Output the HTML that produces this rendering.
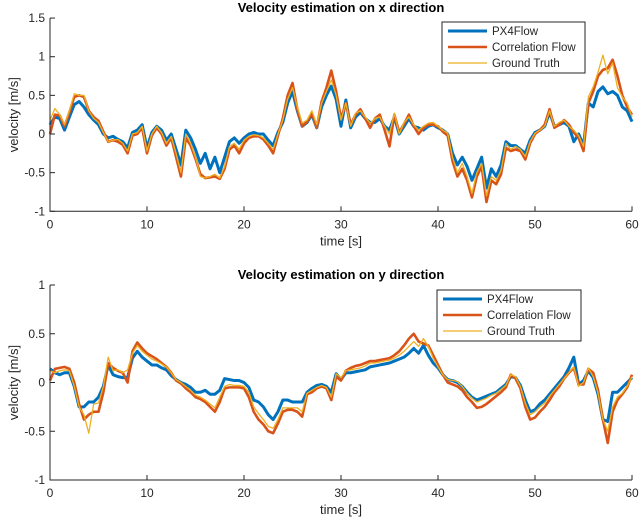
<!DOCTYPE html>
<html><head><meta charset="utf-8">
<style>
html,body{margin:0;padding:0;background:#fff;}
svg{display:block;font-family:"Liberation Sans",Arial,sans-serif;}
</style></head>
<body>
<svg id="chart" width="640" height="521" viewBox="0 0 640 521" xmlns="http://www.w3.org/2000/svg"></svg>
<script>
const tStep = 0.5;
const xTicks = [0,10,20,30,40,50,60];
const yTicksTop = [-1,-0.5,0,0.5,1,1.5];
const yTicksBottom = [-1,-0.5,0,0.5,1];
const seriesNames = ["PX4Flow","Correlation Flow","Ground Truth"];

const px4X = [0.12,0.22,0.2,0.05,0.22,0.38,0.42,0.35,0.25,0.18,0.12,0.0,-0.05,-0.03,-0.07,-0.1,-0.18,0.02,0.05,0.12,
-0.18,0.02,0.1,0.05,-0.08,0.0,-0.2,-0.4,0.05,-0.05,-0.2,-0.38,-0.25,-0.45,-0.3,-0.5,-0.3,-0.1,-0.05,-0.12,
-0.05,0.0,0.02,0.0,0.0,-0.08,-0.15,0.02,0.15,0.4,0.55,0.3,0.1,0.15,0.25,0.08,0.35,0.5,0.62,0.45,
0.1,0.44,0.08,0.22,0.28,0.2,0.15,0.15,0.2,0.1,0.05,0.22,0.0,0.1,0.2,0.1,0.08,0.05,0.1,0.12,
0.08,0.05,0.0,-0.25,-0.4,-0.3,-0.42,-0.6,-0.45,-0.3,-0.7,-0.45,-0.55,-0.4,-0.1,-0.15,-0.15,-0.2,-0.25,-0.08,
0.02,0.05,0.1,0.28,0.1,0.12,0.15,0.1,-0.1,0.0,-0.15,0.4,0.35,0.55,0.61,0.52,0.55,0.5,0.35,0.3,
0.16];
const corrX = [0.0,0.25,0.24,0.1,0.28,0.48,0.5,0.48,0.3,0.22,0.17,0.03,-0.1,-0.08,-0.1,-0.14,-0.25,-0.02,0.0,0.08,
-0.25,-0.02,0.08,0.0,-0.15,-0.05,-0.3,-0.55,-0.05,-0.15,-0.32,-0.52,-0.57,-0.56,-0.55,-0.58,-0.45,-0.2,-0.15,-0.25,
-0.12,-0.05,-0.03,-0.03,-0.07,-0.15,-0.25,-0.02,0.2,0.5,0.66,0.32,0.1,0.16,0.27,0.08,0.42,0.6,0.82,0.55,
0.2,0.4,0.12,0.25,0.32,0.2,0.08,0.2,0.25,0.05,-0.16,0.25,0.02,0.13,0.25,0.1,0.0,0.08,0.12,0.12,
0.1,0.03,-0.02,-0.35,-0.55,-0.45,-0.6,-0.82,-0.55,-0.42,-0.88,-0.6,-0.65,-0.52,-0.18,-0.22,-0.2,-0.22,-0.33,-0.12,
0.0,0.05,0.12,0.32,0.08,0.12,0.18,0.12,0.02,-0.05,-0.22,0.4,0.55,0.75,0.83,0.85,0.96,0.75,0.5,0.35,
0.25];
const gtX = [0.18,0.33,0.25,0.12,0.3,0.52,0.5,0.5,0.3,0.2,0.15,0.02,-0.1,-0.08,-0.07,-0.12,-0.22,0.0,0.02,0.1,
-0.22,0.0,0.1,0.02,-0.12,-0.03,-0.25,-0.5,0.0,-0.12,-0.3,-0.55,-0.57,-0.55,-0.52,-0.57,-0.42,-0.16,-0.12,-0.2,
-0.08,-0.03,-0.01,-0.02,-0.05,-0.12,-0.2,0.0,0.18,0.45,0.6,0.35,0.14,0.18,0.3,0.12,0.4,0.55,0.7,0.5,
0.18,0.4,0.1,0.27,0.3,0.22,0.14,0.2,0.22,0.1,0.0,0.27,0.0,0.15,0.22,0.12,0.05,0.1,0.14,0.15,
0.1,0.05,0.01,-0.3,-0.5,-0.38,-0.55,-0.77,-0.5,-0.38,-0.8,-0.55,-0.6,-0.47,-0.12,-0.2,-0.16,-0.2,-0.29,-0.1,
0.01,0.05,0.1,0.3,0.1,0.15,0.18,0.1,0.05,-0.02,-0.16,0.48,0.61,0.8,1.02,0.78,0.92,0.6,0.48,0.4,
0.22];

const px4Y = [0.14,0.1,0.08,0.1,0.1,-0.04,-0.25,-0.25,-0.2,-0.2,-0.15,-0.04,0.18,0.08,0.06,0.05,0.05,0.25,0.32,0.26,
0.22,0.18,0.18,0.15,0.13,0.07,0.03,0.0,-0.02,-0.05,-0.1,-0.1,-0.08,-0.12,-0.12,-0.08,0.04,0.03,0.02,0.02,
0.0,-0.05,-0.18,-0.2,-0.25,-0.33,-0.38,-0.3,-0.18,-0.18,-0.2,-0.2,-0.2,-0.1,-0.06,-0.03,-0.02,-0.04,-0.1,0.09,
0.03,0.1,0.1,0.11,0.12,0.13,0.16,0.17,0.18,0.19,0.2,0.22,0.24,0.26,0.3,0.35,0.3,0.38,0.28,0.2,
0.15,0.08,0.03,0.02,0.0,-0.04,-0.1,-0.15,-0.18,-0.16,-0.14,-0.12,-0.1,-0.06,-0.02,0.06,0.05,-0.03,-0.18,-0.3,
-0.28,-0.22,-0.18,-0.12,-0.06,0.0,0.06,0.15,0.26,-0.02,0.02,0.12,0.05,-0.12,-0.38,-0.4,-0.1,-0.1,-0.05,0.0,
0.05];
const corrY = [0.02,0.14,0.15,0.16,0.14,0.0,-0.22,-0.38,-0.33,-0.3,-0.3,-0.1,0.2,0.15,0.12,0.1,0.0,0.32,0.41,0.35,
0.3,0.27,0.24,0.2,0.16,0.1,0.02,-0.01,-0.06,-0.1,-0.15,-0.17,-0.2,-0.25,-0.3,-0.2,-0.06,-0.05,-0.05,-0.05,
-0.06,-0.15,-0.3,-0.38,-0.43,-0.5,-0.52,-0.42,-0.3,-0.28,-0.28,-0.3,-0.35,-0.12,-0.1,-0.06,-0.04,-0.06,-0.18,0.06,
0.02,0.12,0.15,0.17,0.18,0.2,0.22,0.22,0.23,0.24,0.25,0.28,0.32,0.38,0.45,0.5,0.42,0.4,0.38,0.28,
0.18,0.08,0.0,-0.02,-0.04,-0.08,-0.15,-0.2,-0.26,-0.25,-0.22,-0.18,-0.14,-0.1,-0.05,0.08,0.04,-0.06,-0.25,-0.38,
-0.36,-0.3,-0.25,-0.18,-0.1,-0.04,0.04,0.1,0.15,-0.02,-0.02,0.14,0.1,-0.08,-0.38,-0.62,-0.3,-0.18,-0.12,-0.05,
0.08];
const gtY = [0.12,0.1,0.12,0.13,0.12,-0.04,-0.25,-0.33,-0.52,-0.22,-0.21,-0.04,0.26,0.12,0.13,0.1,0.13,0.3,0.38,0.32,
0.28,0.24,0.22,0.19,0.16,0.1,0.03,0.0,-0.04,-0.08,-0.13,-0.15,-0.18,-0.22,-0.26,-0.15,-0.04,-0.02,-0.03,-0.03,
-0.04,-0.1,-0.25,-0.32,-0.38,-0.45,-0.47,-0.38,-0.26,-0.26,-0.26,-0.26,-0.3,-0.11,-0.08,-0.05,-0.03,-0.05,-0.15,0.09,
0.05,0.12,0.13,0.14,0.15,0.17,0.2,0.2,0.21,0.22,0.23,0.25,0.28,0.32,0.37,0.42,0.37,0.45,0.37,0.25,
0.16,0.08,0.03,0.02,0.01,-0.04,-0.11,-0.16,-0.2,-0.18,-0.16,-0.13,-0.11,-0.07,-0.03,0.08,0.06,-0.04,-0.21,-0.33,
-0.3,-0.25,-0.21,-0.14,-0.08,-0.02,0.04,0.1,0.16,-0.04,0.0,0.15,0.06,-0.11,-0.38,-0.5,-0.25,-0.15,-0.11,-0.04,
0.06];

const NS = "http://www.w3.org/2000/svg";
const svg = document.getElementById('chart');
function mk(tag, attrs, parent){
  const e = document.createElementNS(NS, tag);
  for (const k in attrs) e.setAttribute(k, attrs[k]);
  (parent||svg).appendChild(e);
  return e;
}
const colors = ["#0072BD","#D95319","#EDB120"];
const widths = [3,2.6,1.3];

function panel(cfg){
  const g = mk('g', {});
  
  
  const xS = t => cfg.x0 + (t - 0) / 60 * (cfg.x1 - cfg.x0);
  const yS = v => cfg.yZero - v * cfg.yUnit;
  // series
  const series = [cfg.px4, cfg.corr, cfg.gt];
  series.forEach((arr, si) => {
    let d = '';
    arr.forEach((v, i) => { d += (i ? 'L' : 'M') + xS(i * tStep).toFixed(2) + ',' + yS(v).toFixed(2); });
    const p = mk('path', {d: d, fill: 'none', stroke: colors[si], 'stroke-width': widths[si], 'stroke-linejoin': 'round'}, g);
    
    
  });
  // axes
  const yTop = yS(cfg.yTicks[cfg.yTicks.length - 1]);
  const yBot = yS(cfg.yTicks[0]);
  const ax = mk('path', {d: `M${cfg.x0},${yTop}V${yBot}H${cfg.x1}`, fill: 'none', stroke: '#262626', 'stroke-width': 1}, g);
  
  
  cfg.yTicks.forEach(v => {
    mk('line', {x1: cfg.x0, x2: cfg.x0 + 5, y1: yS(v), y2: yS(v), stroke: '#262626'}, g);
    const t = mk('text', {x: cfg.x0 - 5, y: yS(v) + 4, 'text-anchor': 'end', 'font-size': 12, fill: '#262626'}, g);
    t.textContent = String(v);
    
    
  });
  xTicks.forEach(v => {
    mk('line', {x1: xS(v), x2: xS(v), y1: yBot, y2: yBot - 5, stroke: '#262626'}, g);
    const t = mk('text', {x: xS(v), y: yBot + 17, 'text-anchor': 'middle', 'font-size': 12, fill: '#262626'}, g);
    t.textContent = String(v);
    
    
  });
  const title = mk('text', {x: (cfg.x0 + cfg.x1) / 2, y: yTop - 6, 'text-anchor': 'middle', 'font-size': 13, 'font-weight': 'bold', fill: '#000'}, g);
  title.textContent = cfg.title;
  
  
  const xl = mk('text', {x: (cfg.x0 + cfg.x1) / 2, y: yBot + 34, 'text-anchor': 'middle', 'font-size': 13, fill: '#262626'}, g);
  xl.textContent = 'time [s]';
  
  
  const ym = (yTop + yBot) / 2;
  const yl = mk('text', {x: 18, y: ym, 'text-anchor': 'middle', 'font-size': 13, fill: '#262626', transform: `rotate(-90 18 ${ym})`}, g);
  yl.textContent = 'velocity [m/s]';
  
  
  // legend
  const L = cfg.legend;
  const lg = mk('g', {}, g);
  
  
  mk('rect', {x: L.x, y: L.y, width: L.w, height: L.h, fill: '#fff', stroke: '#262626', 'stroke-width': 1}, lg);
  seriesNames.forEach((n, i) => {
    const yy = L.y + 9 + i * 16;
    mk('line', {x1: L.x + 6, x2: L.x + 45, y1: yy, y2: yy, stroke: colors[i], 'stroke-width': widths[i]}, lg);
    const t = mk('text', {x: L.x + 50, y: yy + 4, 'font-size': 11.5, fill: '#262626'}, lg);
    t.textContent = n;
    
    
  });
}

panel({name: 'x-velocity-panel', prefix: 'top', title: 'Velocity estimation on x direction',
  x0: 50, x1: 632, yZero: 134, yUnit: 77.3, yTicks: yTicksTop,
  px4: px4X, corr: corrX, gt: gtX, legend: {x: 442, y: 22, w: 143, h: 51}});
panel({name: 'y-velocity-panel', prefix: 'bottom', title: 'Velocity estimation on y direction',
  x0: 50, x1: 632, yZero: 382.5, yUnit: 97.5, yTicks: yTicksBottom,
  px4: px4Y, corr: corrY, gt: gtY, legend: {x: 437, y: 290, w: 144, h: 51}});
</script>
</body></html>
